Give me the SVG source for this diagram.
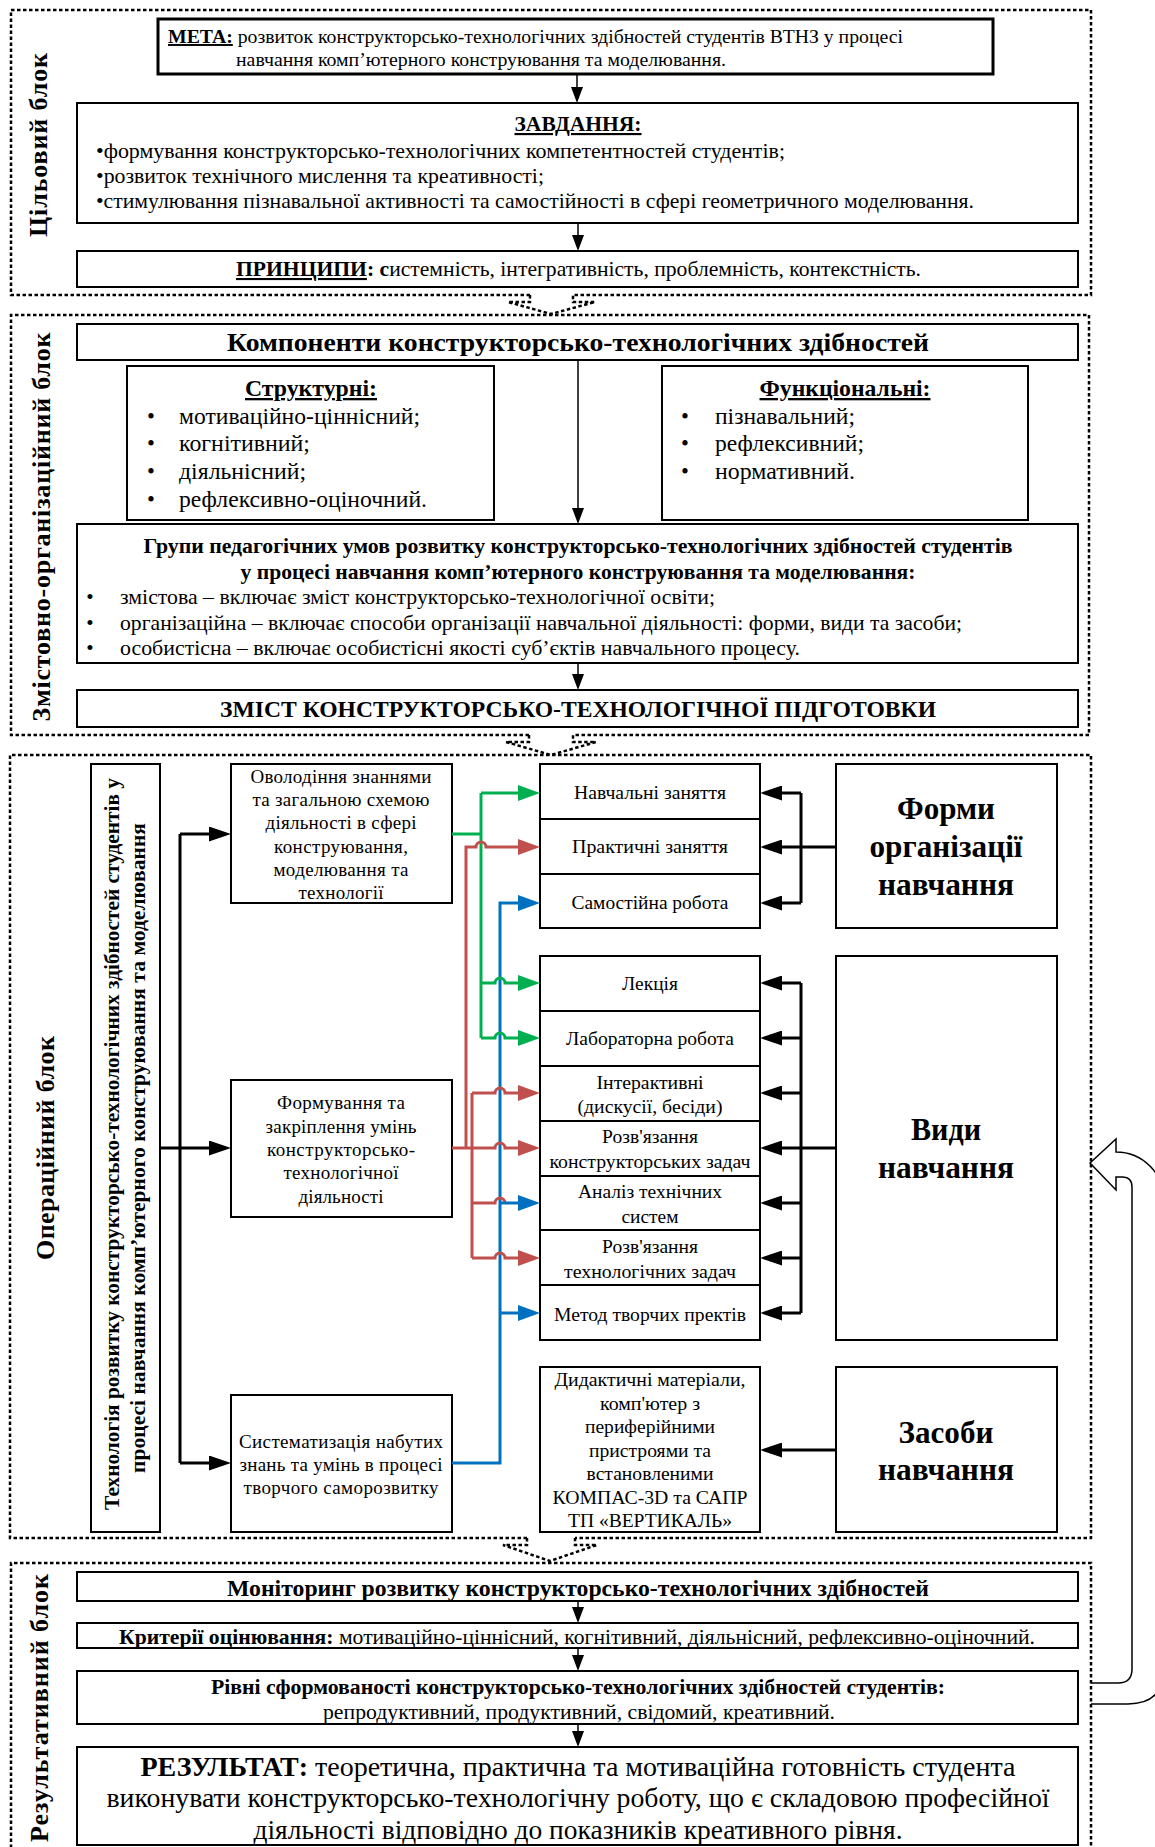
<svg xmlns="http://www.w3.org/2000/svg" width="1155" height="1847" viewBox="0 0 1155 1847">
<style>
text{font-family:"Liberation Serif","Times New Roman",serif;fill:#000}
.bx{fill:#fff;stroke:#000;stroke-width:2}
.bx3{fill:#fff;stroke:#000;stroke-width:3}
.dash{fill:none;stroke:#000;stroke-width:2.5;stroke-dasharray:3.5 2.5}
.b{font-weight:bold}
.u{text-decoration:underline}
.c{text-anchor:middle}
.vl{font-size:26px;font-weight:bold;text-anchor:middle}
.s19{font-size:19px}
.s195{font-size:19.5px}
.s21{font-size:21px}
.s215{font-size:21.5px}
.s225{font-size:22.5px}
.s23{font-size:23px}
.s235{font-size:23.5px}
.s26{font-size:26px}
.s27{font-size:27px}
.big{font-size:31.5px;font-weight:bold;text-anchor:middle}
.ln{fill:none;stroke:#000;stroke-width:1.5}
.k{fill:none;stroke:#000;stroke-width:3}
.g{fill:none;stroke:#00B050;stroke-width:3}
.r{fill:none;stroke:#C0504D;stroke-width:3}
.bl{fill:none;stroke:#0070C0;stroke-width:3}
.fb{fill:none;stroke:#000;stroke-width:1.5}
</style>
<defs>
<marker id="as" markerUnits="userSpaceOnUse" markerWidth="16" markerHeight="12" viewBox="0 0 16 12" refX="0" refY="6" orient="auto"><path d="M0,0 L16,6 L0,12 z" fill="#000"/></marker>
<marker id="ak" markerUnits="userSpaceOnUse" markerWidth="22" markerHeight="15" viewBox="0 0 22 15" refX="0" refY="7.5" orient="auto"><path d="M0,0 L22,7.5 L0,15 z" fill="#000"/></marker>
<marker id="ag" markerUnits="userSpaceOnUse" markerWidth="22" markerHeight="16" viewBox="0 0 22 16" refX="0" refY="8" orient="auto"><path d="M0,0 L22,8 L0,16 z" fill="#00B050"/></marker>
<marker id="ar" markerUnits="userSpaceOnUse" markerWidth="22" markerHeight="16" viewBox="0 0 22 16" refX="0" refY="8" orient="auto"><path d="M0,0 L22,8 L0,16 z" fill="#C0504D"/></marker>
<marker id="ab" markerUnits="userSpaceOnUse" markerWidth="22" markerHeight="16" viewBox="0 0 22 16" refX="0" refY="8" orient="auto"><path d="M0,0 L22,8 L0,16 z" fill="#0070C0"/></marker>
</defs>

<!-- block frames -->
<g id="frames">
<path class="dash" d="M530,295 H11 V10 H1091 V295 H573"/>
<path class="dash" d="M530,295 V302 H508 L551,314 L595,302 H573 V295"/>
<path class="dash" d="M529,735 H11 V315 H1089 V735 H573"/>
<path class="dash" d="M529,735 V742 H506 L551,755 L596,742 H573 V735"/>
<path class="dash" d="M527,1538 H10 V755 H1091 V1538 H575"/>
<path class="dash" d="M527,1538 V1545 H503 L550,1561 L597,1545 H575 V1538"/>
<path class="dash" d="M11,1860 V1563 H1091 V1860"/>
</g>

<g id="block-labels">
<text class="vl" transform="translate(47,145) rotate(-90)" textLength="184" lengthAdjust="spacing">Цільовий блок</text>
<text class="vl" transform="translate(50,527) rotate(-90)" textLength="389" lengthAdjust="spacing">Змістовно-організаційний блок</text>
<text class="vl" transform="translate(54,1148) rotate(-90)" textLength="224" lengthAdjust="spacing">Операційний блок</text>
<text class="vl" transform="translate(48,1708) rotate(-90)" textLength="268" lengthAdjust="spacing">Результативний блок</text>
</g>

<!-- block 1 -->
<g id="meta">
<rect class="bx3" x="158" y="19" width="835" height="55"/>
<text class="s195" x="168" y="43" textLength="735" lengthAdjust="spacingAndGlyphs"><tspan class="b u">МЕТА:</tspan> розвиток конструкторсько-технологічних здібностей студентів ВТНЗ у процесі</text>
<text class="s195" x="236" y="66" textLength="490" lengthAdjust="spacingAndGlyphs">навчання комп’ютерного конструювання та моделювання.</text>
</g>
<g id="zavdannia">
<rect class="bx" x="77" y="103" width="1001" height="120"/>
<text class="s215 b u c" x="578" y="131" textLength="127" lengthAdjust="spacingAndGlyphs">ЗАВДАННЯ:</text>
<text class="s21" x="96" y="158" textLength="689" lengthAdjust="spacingAndGlyphs">•формування конструкторсько-технологічних компетентностей студентів;</text>
<text class="s21" x="96" y="183" textLength="448" lengthAdjust="spacingAndGlyphs">•розвиток технічного мислення та креативності;</text>
<text class="s21" x="96" y="208" textLength="878" lengthAdjust="spacingAndGlyphs">•стимулювання пізнавальної активності та самостійності в сфері геометричного моделювання.</text>
</g>
<g id="pryntsypy">
<rect class="bx" x="77" y="251" width="1001" height="36"/>
<text class="s21" x="236" y="276" textLength="685" lengthAdjust="spacingAndGlyphs"><tspan class="b u">ПРИНЦИПИ</tspan><tspan class="b">: с</tspan>истемність, інтегративність, проблемність, контекстність.</text>
</g>

<!-- block 2 -->
<g id="komponenty">
<rect class="bx" x="77" y="324" width="1001" height="36"/>
<text class="s26 b c" x="578" y="351" textLength="702" lengthAdjust="spacingAndGlyphs">Компоненти конструкторсько-технологічних здібностей</text>
</g>
<g id="strukturni">
<rect class="bx" x="127" y="366" width="367" height="154"/>
<text class="s23 b u c" x="311" y="396" textLength="132" lengthAdjust="spacingAndGlyphs">Структурні:</text>
<g class="s225">
<text class="c" x="151" y="424">•</text><text x="179" y="424" textLength="241" lengthAdjust="spacingAndGlyphs">мотиваційно-ціннісний;</text>
<text class="c" x="151" y="451">•</text><text x="179" y="451" textLength="131" lengthAdjust="spacingAndGlyphs">когнітивний;</text>
<text class="c" x="151" y="479">•</text><text x="179" y="479" textLength="127" lengthAdjust="spacingAndGlyphs">діяльнісний;</text>
<text class="c" x="151" y="507">•</text><text x="179" y="507" textLength="248" lengthAdjust="spacingAndGlyphs">рефлексивно-оціночний.</text>
</g>
</g>
<g id="funktsionalni">
<rect class="bx" x="662" y="366" width="366" height="154"/>
<text class="s23 b u c" x="845" y="396" textLength="171" lengthAdjust="spacingAndGlyphs">Функціональні:</text>
<g class="s225">
<text class="c" x="685" y="424">•</text><text x="715" y="424" textLength="140" lengthAdjust="spacingAndGlyphs">пізнавальний;</text>
<text class="c" x="685" y="451">•</text><text x="715" y="451" textLength="149" lengthAdjust="spacingAndGlyphs">рефлексивний;</text>
<text class="c" x="685" y="479">•</text><text x="715" y="479" textLength="140" lengthAdjust="spacingAndGlyphs">нормативний.</text>
</g>
</g>
<g id="hrupy">
<rect class="bx" x="77" y="524" width="1001" height="139"/>
<text class="s21 b c" x="578" y="553" textLength="869" lengthAdjust="spacingAndGlyphs">Групи педагогічних умов розвитку конструкторсько-технологічних здібностей студентів</text>
<text class="s21 b c" x="578" y="579" textLength="675" lengthAdjust="spacingAndGlyphs">у процесі навчання комп’ютерного конструювання та моделювання:</text>
<g class="s21">
<text class="c" x="90" y="604">•</text><text x="120" y="604" textLength="595" lengthAdjust="spacingAndGlyphs">змістова – включає зміст конструкторсько-технологічної освіти;</text>
<text class="c" x="90" y="630">•</text><text x="120" y="630" textLength="842" lengthAdjust="spacingAndGlyphs">організаційна – включає способи організації навчальної діяльності: форми, види та засоби;</text>
<text class="c" x="90" y="655">•</text><text x="120" y="655" textLength="680" lengthAdjust="spacingAndGlyphs">особистісна – включає особистісні якості суб’єктів навчального процесу.</text>
</g>
</g>
<g id="zmist">
<rect class="bx" x="77" y="690" width="1001" height="37"/>
<text class="s23 b c" x="578" y="717" textLength="716" lengthAdjust="spacingAndGlyphs">ЗМІСТ КОНСТРУКТОРСЬКО-ТЕХНОЛОГІЧНОЇ ПІДГОТОВКИ</text>
</g>

<!-- block 3 -->
<g id="tekhnolohiia">
<rect class="bx" x="91" y="764" width="69" height="768"/>
<text class="s21 b c" transform="translate(119,1144) rotate(-90)" textLength="732" lengthAdjust="spacingAndGlyphs">Технологія розвитку конструкторсько-технологічних здібностей студентів у</text>
<text class="s21 b c" transform="translate(145,1148) rotate(-90)" textLength="650" lengthAdjust="spacingAndGlyphs">процесі навчання комп’ютерного конструювання та моделювання</text>
</g>
<g id="ovolodinnia" class="s19">
<rect class="bx" x="231" y="764" width="221" height="139"/>
<text class="c" x="341" y="783" textLength="181" lengthAdjust="spacing">Оволодіння знаннями</text>
<text class="c" x="341" y="806" textLength="177" lengthAdjust="spacing">та загальною схемою</text>
<text class="c" x="341" y="829" textLength="151" lengthAdjust="spacing">діяльності в сфері</text>
<text class="c" x="341" y="853" textLength="134" lengthAdjust="spacing">конструювання,</text>
<text class="c" x="341" y="876" textLength="135" lengthAdjust="spacing">моделювання та</text>
<text class="c" x="341" y="899" textLength="85" lengthAdjust="spacing">технології</text>
</g>
<g id="formuvannia" class="s19">
<rect class="bx" x="231" y="1080" width="221" height="137"/>
<text class="c" x="341" y="1109" textLength="128" lengthAdjust="spacing">Формування та</text>
<text class="c" x="341" y="1133" textLength="151" lengthAdjust="spacing">закріплення умінь</text>
<text class="c" x="341" y="1156" textLength="148" lengthAdjust="spacing">конструкторсько-</text>
<text class="c" x="341" y="1179" textLength="115" lengthAdjust="spacing">технологічної</text>
<text class="c" x="341" y="1203" textLength="85" lengthAdjust="spacing">діяльності</text>
</g>
<g id="systematyzatsiia" class="s19">
<rect class="bx" x="231" y="1395" width="221" height="137"/>
<text class="c" x="341" y="1448" textLength="204" lengthAdjust="spacing">Систематизація набутих</text>
<text class="c" x="341" y="1471" textLength="203" lengthAdjust="spacing">знань та умінь в процесі</text>
<text class="c" x="341" y="1494" textLength="195" lengthAdjust="spacing">творчого саморозвитку</text>
</g>

<g id="forms-list" class="s195">
<rect class="bx" x="540" y="764" width="220" height="55"/>
<text class="c" x="650" y="799" textLength="152" lengthAdjust="spacingAndGlyphs">Навчальні заняття</text>
<rect class="bx" x="540" y="819" width="220" height="55"/>
<text class="c" x="650" y="853" textLength="156" lengthAdjust="spacingAndGlyphs">Практичні заняття</text>
<rect class="bx" x="540" y="874" width="220" height="54"/>
<text class="c" x="650" y="909" textLength="157" lengthAdjust="spacingAndGlyphs">Самостійна робота</text>
</g>
<g id="types-list" class="s195">
<rect class="bx" x="540" y="956" width="220" height="55"/>
<text class="c" x="650" y="990" textLength="56" lengthAdjust="spacingAndGlyphs">Лекція</text>
<rect class="bx" x="540" y="1011" width="220" height="55"/>
<text class="c" x="650" y="1045" textLength="168" lengthAdjust="spacingAndGlyphs">Лабораторна робота</text>
<rect class="bx" x="540" y="1066" width="220" height="55"/>
<text class="c" x="650" y="1089" textLength="107" lengthAdjust="spacingAndGlyphs">Інтерактивні</text>
<text class="c" x="650" y="1113" textLength="145" lengthAdjust="spacingAndGlyphs">(дискусії, бесіди)</text>
<rect class="bx" x="540" y="1121" width="220" height="55"/>
<text class="c" x="650" y="1143" textLength="96" lengthAdjust="spacingAndGlyphs">Розв'язання</text>
<text class="c" x="650" y="1168" textLength="201" lengthAdjust="spacingAndGlyphs">конструкторських задач</text>
<rect class="bx" x="540" y="1176" width="220" height="54"/>
<text class="c" x="650" y="1198" textLength="144" lengthAdjust="spacingAndGlyphs">Аналіз технічних</text>
<text class="c" x="650" y="1223" textLength="57" lengthAdjust="spacingAndGlyphs">систем</text>
<rect class="bx" x="540" y="1230" width="220" height="55"/>
<text class="c" x="650" y="1253" textLength="96" lengthAdjust="spacingAndGlyphs">Розв'язання</text>
<text class="c" x="650" y="1278" textLength="172" lengthAdjust="spacingAndGlyphs">технологічних задач</text>
<rect class="bx" x="540" y="1285" width="220" height="55"/>
<text class="c" x="650" y="1321" textLength="192" lengthAdjust="spacingAndGlyphs">Метод творчих пректів</text>
</g>
<g id="means-list" class="s195">
<rect class="bx" x="540" y="1367" width="220" height="165"/>
<text class="c" x="650" y="1386" textLength="191" lengthAdjust="spacingAndGlyphs">Дидактичні матеріали,</text>
<text class="c" x="650" y="1410" textLength="100" lengthAdjust="spacingAndGlyphs">комп'ютер з</text>
<text class="c" x="650" y="1433" textLength="130" lengthAdjust="spacingAndGlyphs">периферійними</text>
<text class="c" x="650" y="1457" textLength="122" lengthAdjust="spacingAndGlyphs">пристроями та</text>
<text class="c" x="650" y="1480" textLength="127" lengthAdjust="spacingAndGlyphs">встановленими</text>
<text class="c" x="650" y="1504" textLength="195" lengthAdjust="spacingAndGlyphs">КОМПАС-3D та САПР</text>
<text class="c" x="650" y="1527" textLength="164" lengthAdjust="spacingAndGlyphs">ТП «ВЕРТИКАЛЬ»</text>
</g>

<g id="formy">
<rect class="bx" x="836" y="764" width="221" height="164"/>
<text class="big" x="946" y="819" textLength="98" lengthAdjust="spacingAndGlyphs">Форми</text>
<text class="big" x="946" y="857" textLength="153" lengthAdjust="spacingAndGlyphs">організації</text>
<text class="big" x="946" y="895" textLength="136" lengthAdjust="spacingAndGlyphs">навчання</text>
</g>
<g id="vydy">
<rect class="bx" x="836" y="956" width="221" height="384"/>
<text class="big" x="946" y="1140" textLength="70" lengthAdjust="spacingAndGlyphs">Види</text>
<text class="big" x="946" y="1178" textLength="136" lengthAdjust="spacingAndGlyphs">навчання</text>
</g>
<g id="zasoby">
<rect class="bx" x="836" y="1367" width="221" height="165"/>
<text class="big" x="946" y="1443" textLength="95" lengthAdjust="spacingAndGlyphs">Засоби</text>
<text class="big" x="946" y="1480" textLength="136" lengthAdjust="spacingAndGlyphs">навчання</text>
</g>

<!-- block 4 -->
<g id="monitorynh">
<rect class="bx" x="77" y="1572" width="1001" height="29"/>
<text class="s235 b c" x="578" y="1596" textLength="702" lengthAdjust="spacingAndGlyphs">Моніторинг розвитку конструкторсько-технологічних здібностей</text>
</g>
<g id="kryterii">
<rect class="bx" x="77" y="1623" width="1001" height="25"/>
<text class="s21 c" x="577" y="1644" textLength="916" lengthAdjust="spacingAndGlyphs"><tspan class="b">Критерії оцінювання:</tspan> мотиваційно-ціннісний, когнітивний, діяльнісний, рефлексивно-оціночний.</text>
</g>
<g id="rivni">
<rect class="bx" x="77" y="1671" width="1001" height="53"/>
<text class="s21 b c" x="578" y="1694" textLength="734" lengthAdjust="spacingAndGlyphs">Рівні сформованості конструкторсько-технологічних здібностей студентів:</text>
<text class="s21 c" x="579" y="1719" textLength="512" lengthAdjust="spacingAndGlyphs">репродуктивний, продуктивний, свідомий, креативний.</text>
</g>
<g id="rezultat">
<rect class="bx" x="77" y="1747" width="1001" height="98"/>
<text class="s27 c" x="578" y="1776" textLength="875" lengthAdjust="spacingAndGlyphs"><tspan class="b">РЕЗУЛЬТАТ:</tspan> теоретична, практична та мотиваційна готовність студента</text>
<text class="s27 c" x="578" y="1807" textLength="943" lengthAdjust="spacingAndGlyphs">виконувати конструкторсько-технологічну роботу, що є складовою професійної</text>
<text class="s27 c" x="578" y="1839" textLength="649" lengthAdjust="spacingAndGlyphs">діяльності відповідно до показників креативного рівня.</text>
</g>

<!-- connectors -->
<g id="connectors">
<path class="ln" d="M577,74 V87" marker-end="url(#as)"/>
<path class="ln" d="M578,223 V235" marker-end="url(#as)"/>
<path class="ln" d="M578,360 V508" marker-end="url(#as)"/>
<path class="ln" d="M578,663 V674" marker-end="url(#as)"/>
<path class="ln" d="M578,1601 V1607" marker-end="url(#as)"/>
<path class="ln" d="M578,1648 V1655" marker-end="url(#as)"/>
<path class="ln" d="M578,1724 V1731" marker-end="url(#as)"/>

<path class="k" d="M180,834 V1463"/>
<path class="k" d="M180,834 H209" marker-end="url(#ak)"/>
<path class="k" d="M160,1148 H209" marker-end="url(#ak)"/>
<path class="k" d="M180,1463 H209" marker-end="url(#ak)"/>

<path class="k" d="M801,793 V903"/>
<path class="k" d="M836,847 H782" marker-end="url(#ak)"/>
<path class="k" d="M801,793 H782" marker-end="url(#ak)"/>
<path class="k" d="M801,903 H782" marker-end="url(#ak)"/>

<path class="k" d="M801,983 V1313"/>
<path class="k" d="M836,1148 H782" marker-end="url(#ak)"/>
<path class="k" d="M801,983 H782" marker-end="url(#ak)"/>
<path class="k" d="M801,1038 H782" marker-end="url(#ak)"/>
<path class="k" d="M801,1093 H782" marker-end="url(#ak)"/>
<path class="k" d="M801,1203 H782" marker-end="url(#ak)"/>
<path class="k" d="M801,1258 H782" marker-end="url(#ak)"/>
<path class="k" d="M801,1313 H782" marker-end="url(#ak)"/>
<path class="k" d="M836,1450 H782" marker-end="url(#ak)"/>

<path class="bl" d="M452,1463 H500 V903 H518" marker-end="url(#ab)"/>
<path class="g" d="M452,834 H481"/>
<path class="g" d="M481,793 V1038"/>
<path class="g" d="M481,793 H518" marker-end="url(#ag)"/>
<path class="g" d="M481,983 H495 a5,5 0 0 1 10,0 H518" marker-end="url(#ag)"/>
<path class="g" d="M481,1038 H495 a5,5 0 0 1 10,0 H518" marker-end="url(#ag)"/>
<path class="r" d="M452,1148 H495 a5,5 0 0 1 10,0 H518" marker-end="url(#ar)"/>
<path class="r" d="M466,1148 V847 H476 a5,5 0 0 1 10,0 H518" marker-end="url(#ar)"/>
<path class="r" d="M472,1093 V1258"/>
<path class="r" d="M472,1093 H495 a5,5 0 0 1 10,0 H518" marker-end="url(#ar)"/>
<path class="r" d="M472,1203 H495 a5,5 0 0 1 10,0"/>
<path class="r" d="M472,1258 H495 a5,5 0 0 1 10,0 H518" marker-end="url(#ar)"/>
<path class="bl" d="M500,1203 H518" marker-end="url(#ab)"/>
<path class="bl" d="M500,1313 H518" marker-end="url(#ab)"/>

<path class="fb" d="M1091,1683 H1118 Q1132,1683 1132,1669 V1187 Q1132,1177 1122,1177 H1116 V1190 L1090,1163 L1116,1139 V1152 A48,48 0 0 1 1164,1200 V1668 Q1164,1704 1128,1704 H1091"/>
</g>
</svg>
